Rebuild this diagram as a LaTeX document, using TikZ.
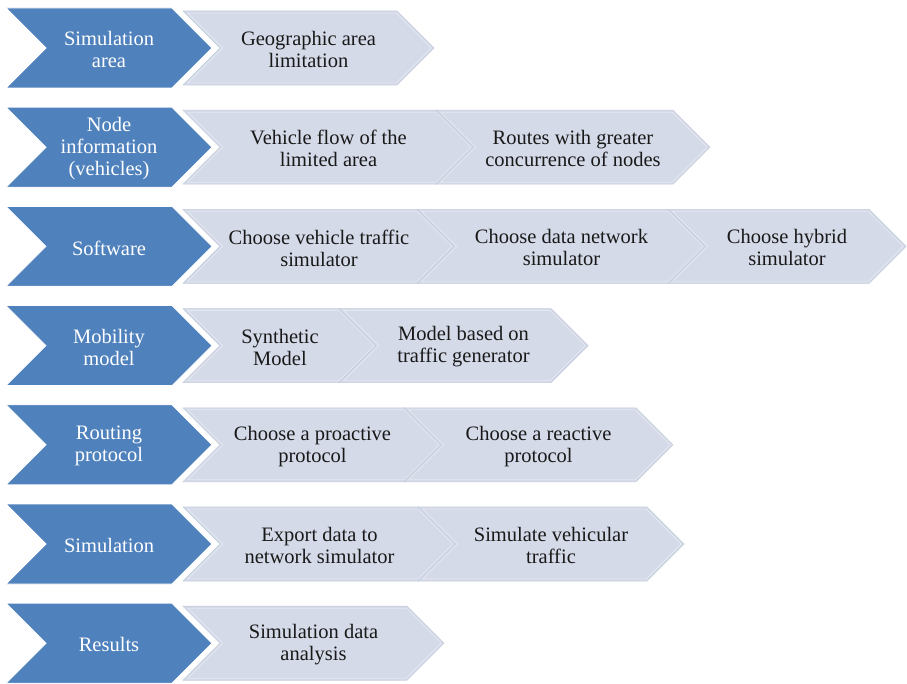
\documentclass[tikz,border=0pt]{standalone}
\usepackage{fontspec}
\setmainfont{Liberation Serif}

\definecolor{stageblue}{RGB}{79,129,189}
\definecolor{steplight}{RGB}{213,218,232}
\definecolor{stepedge}{RGB}{198,205,222}
\definecolor{stepline}{RGB}{228,232,241}
\definecolor{steptextcol}{RGB}{25,25,25}

% chevron outline: left x, tip x, top y, bottom y, point depth
\newcommand{\chevpath}[5]{(#1,#3) -- ({#2-(#5)},#3) -- (#2,{((#3)+(#4))/2}) -- ({#2-(#5)},#4) -- (#1,#4) -- ({#1+(#5)},{((#3)+(#4))/2}) -- cycle}

% blue stage chevron on the left: name, top y, label
\newcommand{\stagechev}[3]{%
  \path[stagefill] \chevpath{6}{212}{#2}{#2+80}{40};
  \node[stagetext] (#1) at (109,{#2+40}) {#3};}

% light step chevron: name, left x, tip x, top y of the row, label
\newcommand{\stepchev}[5]{%
  \path[stepfill] \chevpath{#2}{#3}{#4+3}{#4+77}{37};
  \path[stepinner] \chevpath{#2+4.8}{#3-2.8}{#4+5}{#4+75}{35};
  \node[steptext] (#1) at ({(#2+#3)/2},{#4+40}) {#5};}

\begin{document}
\begin{tikzpicture}[x=1pt,y=-1pt,
  stagefill/.style={fill=stageblue,draw=white,line width=0.8pt,line join=miter},
  stepfill/.style={fill=steplight,draw=stepedge,line width=0.6pt,line join=miter},
  stepinner/.style={draw=stepline,line width=0.7pt,line join=miter},
  textbase/.style={align=center,inner sep=0pt,yshift=-1.5pt,font=\fontsize{20.5}{22}\selectfont},
  stagetext/.style={textbase,text=white},
  steptext/.style={textbase,text=steptextcol}]

\useasboundingbox (0,0) rectangle (907,684);
\fill[white] (0,0) rectangle (907,684);

% row 1
\stepchev{s11}{183}{434}{8}{Geographic area\\limitation}
\stagechev{r1}{8}{Simulation\\area}

% row 2
\stepchev{s21}{183}{474}{107.2}{Vehicle flow of the\\limited area}
\stepchev{s22}{436}{710}{107.2}{Routes with greater\\concurrence of nodes}
\stagechev{r2}{107.2}{Node\\information\\(vehicles)}

% row 3
\stepchev{s31}{183}{455}{206.4}{Choose vehicle traffic\\simulator}
\stepchev{s32}{417}{706}{206.4}{Choose data network\\simulator}
\stepchev{s33}{668}{906}{206.4}{Choose hybrid\\simulator}
\stagechev{r3}{206.4}{Software}

% row 4
\stepchev{s41}{183}{377}{305.6}{Synthetic\\Model}
\stepchev{s42}{339}{588}{305.6}{Model based on\\traffic generator}
\stagechev{r4}{305.6}{Mobility\\model}

% row 5
\stepchev{s51}{183}{442}{404.8}{Choose a proactive\\protocol}
\stepchev{s52}{404}{673}{404.8}{Choose a reactive\\protocol}
\stagechev{r5}{404.8}{Routing\\protocol}

% row 6
\stepchev{s61}{183}{456}{504}{Export data to\\network simulator}
\stepchev{s62}{418}{684}{504}{Simulate vehicular\\traffic}
\stagechev{r6}{504}{Simulation}

% row 7
\stepchev{s71}{183}{444}{603.2}{Simulation data\\analysis}
\stagechev{r7}{603.2}{Results}
\end{tikzpicture}
\end{document}
